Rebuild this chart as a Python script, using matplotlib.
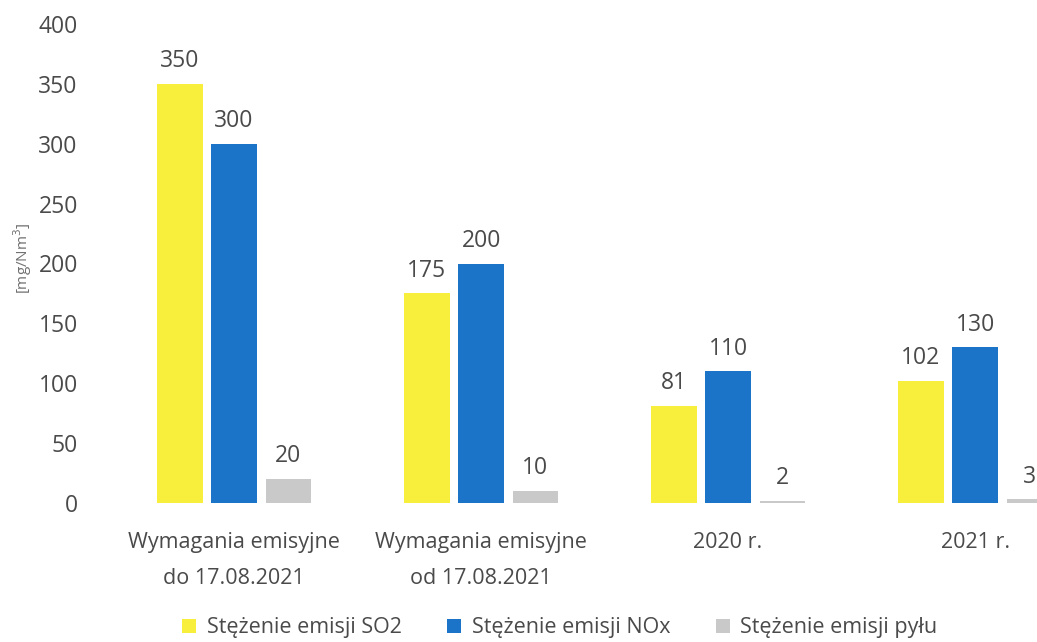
import matplotlib
matplotlib.use("Agg")
import matplotlib.pyplot as plt
from matplotlib.patches import Patch
import numpy as np

categories = ["Wymagania emisyjne\ndo 17.08.2021", "Wymagania emisyjne\nod 17.08.2021",
              "2020 r.", "2021 r."]
series_names = ["Stężenie emisji SO2", "Stężenie emisji NOx", "Stężenie emisji pyłu"]
so2 = [350, 175, 81, 102]
nox = [300, 200, 110, 130]
dust = [20, 10, 2, 3]
yticks = [0, 50, 100, 150, 200, 250, 300, 350, 400]

colors = ["#F8EE3C", "#1C74C8", "#C9C9C9"]
text_color = "#4a4a4a"

plt.rcParams["font.family"] = ["Open Sans", "DejaVu Sans"]

fig = plt.figure(figsize=(10.37, 6.42), dpi=100)
ax = fig.add_axes([100 / 1037, 139 / 642, 937 / 1037, 479 / 642])

x = np.arange(len(categories))
width = 0.185
offset = 0.22
for i, (vals, col) in enumerate(zip([so2, nox, dust], colors)):
    pos = x + (i - 1) * offset
    bars = ax.bar(pos, vals, width=width, color=col, label=series_names[i])
    for b, v in zip(bars, vals):
        ax.text(b.get_x() + b.get_width() / 2, v + 19, str(v), ha="center",
                va="center", fontsize=16.5, color=text_color)

ax.set_xlim(-0.543, -0.543 + 937 / 247)
ax.set_ylim(0, 400)
ax.set_yticks(yticks)
ax.set_xticks(x)
ax.set_xticklabels(categories, fontsize=15.5, color=text_color, linespacing=1.95)
ax.tick_params(axis="y", length=0, pad=16, labelsize=16.5, labelcolor=text_color)
ax.tick_params(axis="x", length=0, pad=21)
for s in ax.spines.values():
    s.set_visible(False)

fig.text(23 / 1037, 1 - 258 / 642, "[mg/Nm$^3$]", rotation=90, ha="center",
         va="center", fontsize=11, color="#707070")

handles = [Patch(facecolor=c) for c in colors]
fig.legend(handles, series_names, loc="center", bbox_to_anchor=(560 / 1037, 1 - 628 / 642),
           ncol=3, frameon=False, fontsize=15.5, labelcolor=text_color,
           handlelength=0.65, handleheight=0.65, handletextpad=0.5, columnspacing=2.1)

fig.savefig("out.png", dpi=100)
